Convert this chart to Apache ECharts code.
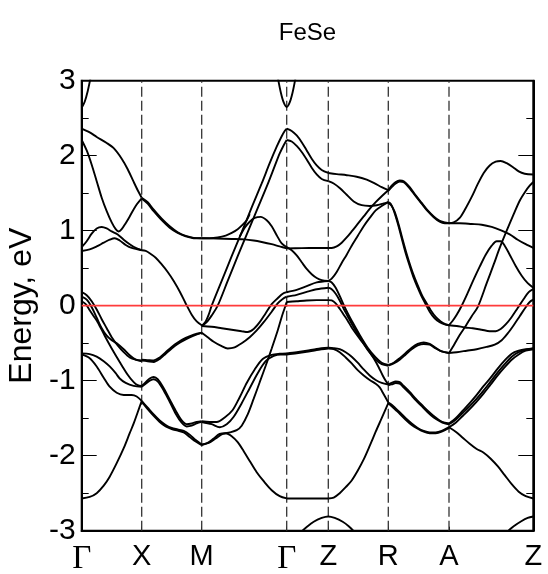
<!DOCTYPE html>
<html>
<head>
<meta charset="utf-8">
<script src="https://cdn.jsdelivr.net/npm/echarts@6/dist/echarts.min.js"></script>
<style>html,body{margin:0;padding:0;background:#fff}#main{width:548px;height:574px}</style>
</head>
<body>
<div id="main"></div>
<script>
// high-symmetry points (k-path distance) and labels
const kTicks = [0, 60, 120, 205, 246.6, 306.6, 367.3, 451.6];
const kLabels = ['Γ', 'X', 'M', 'Γ', 'Z', 'R', 'A', 'Z'];
const titleText = 'FeSe';
const yName = 'Energy, eV';
const fermiLevel = 0;

// Γ–X
const gx_top = [[0,2.64],[3,2.72],[6,2.86],[9,3.05]];
const gx_b1 = [[0,2.36],[8,2.31],[15,2.25],[25,2.17],[32,2.10],[40,1.96],[46,1.82],[52,1.65],[56,1.54],[60,1.44]];
const gx_b2 = [[0,2.21],[5,2.07],[10,1.88],[15,1.66],[20,1.44],[25,1.26],[30,1.11],[34,1.02],[37,0.99],[40,1.02],[44,1.10],[48,1.19],[54,1.33],[60,1.43]];
const gx_b3 = [[0,0.78],[5,0.86],[10,0.96],[15,1.03],[20,1.05],[25,1.03],[30,0.99],[36,0.95],[42,0.88],[48,0.82],[54,0.77],[60,0.74]];
const gx_b4 = [[0,0.73],[8,0.75],[15,0.79],[22,0.84],[28,0.88],[33,0.90],[38,0.87],[44,0.81],[50,0.77],[60,0.74]];
const gx_h1 = [[0,0.18],[5,0.14],[10,0.06],[15,-0.05],[20,-0.18],[25,-0.30],[30,-0.42],[36,-0.53],[42,-0.62],[48,-0.69],[54,-0.72],[60,-0.73]];
const gx_h2 = [[0,0.12],[5,0.08],[10,-0.02],[15,-0.16],[20,-0.30],[25,-0.40],[30,-0.46],[36,-0.51],[42,-0.58],[48,-0.66],[54,-0.72],[60,-0.74]];
const gx_h3 = [[0,0.06],[4,0.02],[8,-0.06],[12,-0.14],[16,-0.22],[23,-0.40],[30,-0.57],[38,-0.75],[46,-0.92],[52,-1.02],[56,-1.06],[60,-1.07]];
const gx_l1 = [[0,-0.635],[8,-0.645],[15,-0.68],[22,-0.74],[28,-0.81],[34,-0.90],[38,-0.97],[44,-1.03],[52,-1.07],[60,-1.08]];
const gx_l2 = [[0,-0.65],[8,-0.70],[15,-0.81],[22,-0.96],[28,-1.08],[35,-1.16],[42,-1.19],[50,-1.19],[55,-1.21],[60,-1.27]];
const gx_l3 = [[0,-2.57],[8,-2.55],[15,-2.50],[22,-2.40],[28,-2.28],[35,-2.10],[42,-1.90],[48,-1.70],[52,-1.57],[56,-1.42],[60,-1.27]];

// X–M
const xm_u1 = [[60,1.44],[66,1.38],[72,1.28],[80,1.16],[88,1.06],[96,0.98],[104,0.93],[112,0.905],[120,0.90]];
const xm_u2 = [[60,1.43],[66,1.36],[72,1.26],[80,1.14],[88,1.04],[96,0.97],[104,0.925],[112,0.90],[120,0.90]];
const xm_e1 = [[60,0.74],[64,0.73],[68,0.70],[74,0.64],[80,0.55],[86,0.45],[92,0.33],[98,0.19],[104,0.03],[110,-0.12],[115,-0.21],[120,-0.26]];
const xm_d1 = [[60,-0.73],[66,-0.74],[72,-0.75],[78,-0.71],[84,-0.64],[90,-0.57],[96,-0.51],[104,-0.45],[112,-0.40],[120,-0.36]];
const xm_d2 = [[60,-0.72],[66,-0.725],[72,-0.73],[78,-0.69],[84,-0.62],[90,-0.55],[96,-0.49],[104,-0.43],[112,-0.385],[120,-0.36]];
const xm_p1 = [[60,-1.07],[64,-1.02],[68,-0.97],[72,-0.95],[76,-0.98],[82,-1.10],[88,-1.25],[94,-1.40],[100,-1.53],[105,-1.58],[110,-1.57],[115,-1.55],[120,-1.54]];
const xm_p2 = [[60,-1.08],[64,-1.04],[68,-1.00],[72,-0.98],[76,-1.01],[82,-1.13],[88,-1.28],[94,-1.44],[100,-1.56],[105,-1.61],[110,-1.60],[115,-1.57],[120,-1.55]];
const xm_r1 = [[60,-1.27],[66,-1.36],[72,-1.45],[78,-1.53],[84,-1.59],[90,-1.63],[96,-1.65],[102,-1.67],[108,-1.72],[114,-1.79],[120,-1.85]];
const xm_r2 = [[60,-1.28],[66,-1.38],[72,-1.47],[78,-1.55],[84,-1.61],[90,-1.645],[96,-1.665],[102,-1.69],[108,-1.75],[114,-1.81],[120,-1.86]];

// M–Γ
const mg_f = [[120,0.90],[135,0.895],[150,0.89],[163,0.885],[172,0.87],[180,0.85],[190,0.82],[198,0.79],[205,0.765]];
const mg_c = [[120,0.90],[128,0.90],[136,0.91],[144,0.935],[150,0.97],[156,1.02],[161,1.08],[165,1.14],[168,1.22]];
const mg_bump = [[158,0.92],[163,1.04],[168,1.12],[173,1.17],[179,1.185],[185,1.14],[190,1.06],[195,0.94],[200,0.83],[205,0.78]];
const mg_s1 = [[120,-0.27],[124,-0.21],[127,-0.12],[130,0.0],[140,0.33],[150,0.66],[160,0.98],[170,1.31],[180,1.63],[188,1.90],[195,2.12],[200,2.26],[203,2.33],[205,2.36]];
const mg_s2 = [[120,-0.27],[125,-0.22],[130,-0.13],[136,0.0],[146,0.33],[156,0.66],[166,0.98],[176,1.30],[186,1.62],[193,1.86],[198,2.03],[202,2.14],[205,2.21]];
const mg_g1 = [[120,-0.27],[130,-0.28],[140,-0.30],[150,-0.32],[160,-0.34],[166,-0.35],[172,-0.31],[178,-0.22],[184,-0.10],[190,0.02],[196,0.10],[201,0.16],[205,0.18]];
const mg_g2 = [[120,-0.36],[126,-0.42],[132,-0.48],[140,-0.54],[146,-0.57],[152,-0.56],[160,-0.50],[168,-0.42],[175,-0.33],[182,-0.22],[190,-0.08],[196,0.03],[201,0.09],[205,0.12]];
const mg_t = [[120,-1.85],[127,-1.83],[134,-1.77],[141,-1.71],[148,-1.69],[155,-1.66],[160,-1.60],[166,-1.45],[172,-1.24],[178,-1.02],[184,-0.80],[190,-0.57],[196,-0.33],[200,-0.15],[203,-0.03],[205,0.05]];
const mg_q1 = [[120,-1.54],[128,-1.55],[135,-1.55],[143,-1.49],[151,-1.39],[158,-1.22],[165,-1.03],[173,-0.85],[181,-0.71],[190,-0.655],[198,-0.64],[205,-0.635]];
const mg_q2 = [[120,-1.55],[130,-1.58],[138,-1.62],[145,-1.58],[152,-1.48],[160,-1.30],[168,-1.10],[176,-0.90],[184,-0.74],[192,-0.67],[199,-0.65],[205,-0.65]];
const mg_deep = [[120,-1.86],[126,-1.83],[132,-1.77],[138,-1.71],[144,-1.70],[150,-1.74],[156,-1.82],[162,-1.94],[168,-2.07],[175,-2.22],[182,-2.34],[190,-2.46],[198,-2.54],[205,-2.57]];
const g1_top = [[196,3.05],[199,2.85],[202,2.71],[205,2.65],[208,2.71],[211,2.85],[214,3.05]];

// Γ–Z
const gz_v1 = [[205,2.36],[210,2.33],[215,2.27],[220,2.18],[225,2.07],[230,1.96],[235,1.87],[240,1.81],[246.6,1.77]];
const gz_v2 = [[205,2.21],[210,2.19],[215,2.13],[220,2.05],[225,1.95],[230,1.84],[235,1.75],[240,1.69],[246.6,1.66]];
const gz_flat = [[205,0.765],[220,0.768],[235,0.77],[246.6,0.77]];
const gz_w = [[205,0.78],[210,0.74],[215,0.67],[220,0.58],[225,0.49],[230,0.42],[235,0.37],[240,0.34],[246.6,0.33]];
const gz_h1 = [[205,0.18],[215,0.21],[225,0.26],[235,0.31],[246.6,0.33]];
const gz_h2 = [[205,0.12],[215,0.145],[225,0.185],[235,0.22],[246.6,0.24]];
const gz_h3 = [[205,0.05],[215,0.06],[225,0.07],[235,0.075],[246.6,0.075]];
const gz_l1 = [[205,-0.635],[215,-0.62],[225,-0.60],[235,-0.575],[246.6,-0.56]];
const gz_l2 = [[205,-0.65],[215,-0.635],[225,-0.615],[235,-0.59],[246.6,-0.57]];
const gz_deep = [[205,-2.57],[225,-2.57],[246.6,-2.57]];
const gz_hump = [[219,-3.02],[225,-2.95],[232,-2.88],[240,-2.83],[246.6,-2.81],[253,-2.83],[261,-2.88],[267,-2.94],[273,-3.02]];

// Z–R
const zr_y1 = [[246.6,1.77],[255,1.755],[265,1.74],[275,1.72],[285,1.68],[293,1.63],[300,1.58],[306.6,1.54]];
const zr_y2 = [[246.6,1.66],[252,1.63],[258,1.57],[265,1.48],[272,1.39],[280,1.34],[288,1.33],[295,1.34],[301,1.36],[306.6,1.38]];
const zr_y3 = [[246.6,0.77],[250,0.77],[255,0.79],[260,0.84],[265,0.91],[270,0.99],[276,1.09],[282,1.19],[288,1.29],[294,1.38],[300,1.46],[306.6,1.54]];
const zr_y4 = [[246.6,0.33],[250,0.36],[255,0.45],[260,0.57],[265,0.68],[270,0.80],[276,0.93],[282,1.06],[288,1.17],[294,1.27],[300,1.33],[306.6,1.38]];
const zr_h1 = [[246.6,0.33],[250,0.31],[254,0.24],[258,0.13],[262,0.01],[266,-0.10],[270,-0.20],[278,-0.39],[286,-0.56],[294,-0.69],[300,-0.76],[306.6,-0.79]];
const zr_h2 = [[246.6,0.24],[250,0.22],[254,0.16],[258,0.07],[262,-0.04],[266,-0.14],[270,-0.24],[278,-0.42],[286,-0.59],[294,-0.72],[300,-0.78],[306.6,-0.80]];
const zr_h3 = [[246.6,0.075],[250,0.07],[254,0.03],[258,-0.04],[262,-0.12],[266,-0.20],[270,-0.29],[278,-0.44],[286,-0.58],[292,-0.70],[297,-0.82],[301,-0.93],[304,-1.00],[306.6,-1.05]];
const zr_l1 = [[246.6,-0.56],[252,-0.565],[258,-0.58],[264,-0.62],[270,-0.68],[276,-0.76],[282,-0.85],[288,-0.93],[294,-0.99],[300,-1.03],[306.6,-1.05]];
const zr_l2 = [[246.6,-0.57],[252,-0.58],[258,-0.62],[264,-0.69],[270,-0.77],[276,-0.86],[282,-0.93],[288,-0.99],[294,-1.04],[298,-1.09],[302,-1.18],[306.6,-1.29]];
const zr_deep = [[246.6,-2.57],[252,-2.56],[258,-2.50],[264,-2.42],[270,-2.33],[276,-2.20],[282,-2.05],[288,-1.87],[294,-1.68],[300,-1.50],[306.6,-1.30]];

// R–A
const ra_u1 = [[306.6,1.54],[310,1.60],[314,1.65],[318,1.67],[322,1.66],[328,1.58],[334,1.47],[340,1.37],[346,1.27],[352,1.19],[358,1.13],[363,1.11],[367.3,1.10]];
const ra_u2 = [[306.6,1.53],[310,1.58],[314,1.63],[318,1.655],[322,1.645],[328,1.565],[334,1.46],[340,1.36],[346,1.26],[352,1.18],[358,1.12],[363,1.10],[367.3,1.10]];
const ra_d1 = [[306.6,1.38],[309,1.36],[312,1.27],[316,1.10],[320,0.90],[324,0.70],[328,0.53],[332,0.37],[336,0.24],[340,0.12],[344,0.02],[348,-0.08],[353,-0.17],[358,-0.22],[363,-0.25],[367.3,-0.26]];
const ra_d2 = [[306.6,1.37],[310,1.33],[313,1.25],[317,1.08],[321,0.88],[325,0.69],[329,0.52],[333,0.37],[337,0.24],[341,0.12],[345,0.03],[349,-0.06],[354,-0.15],[359,-0.21],[364,-0.25],[367.3,-0.26]];
const ra_m1 = [[306.6,-0.79],[312,-0.76],[318,-0.70],[324,-0.63],[330,-0.56],[336,-0.51],[342,-0.49],[348,-0.51],[354,-0.56],[360,-0.61],[367.3,-0.63]];
const ra_m2 = [[306.6,-0.80],[312,-0.77],[318,-0.72],[324,-0.65],[330,-0.58],[336,-0.53],[342,-0.51],[348,-0.52],[354,-0.57],[360,-0.61],[367.3,-0.63]];
const ra_n1 = [[306.6,-1.05],[310,-1.03],[314,-1.01],[318,-1.02],[322,-1.07],[328,-1.15],[334,-1.24],[340,-1.32],[346,-1.40],[352,-1.47],[358,-1.53],[363,-1.56],[367.3,-1.57]];
const ra_n2 = [[306.6,-1.06],[310,-1.05],[314,-1.03],[318,-1.04],[322,-1.09],[328,-1.17],[334,-1.26],[340,-1.34],[346,-1.42],[352,-1.49],[358,-1.54],[363,-1.57],[367.3,-1.58]];
const ra_p1 = [[306.6,-1.29],[310,-1.32],[314,-1.37],[318,-1.42],[324,-1.50],[330,-1.57],[336,-1.63],[342,-1.67],[348,-1.69],[354,-1.69],[360,-1.67],[367.3,-1.62]];
const ra_p2 = [[306.6,-1.30],[310,-1.34],[314,-1.39],[318,-1.44],[324,-1.52],[330,-1.59],[336,-1.64],[342,-1.68],[348,-1.70],[354,-1.70],[360,-1.68],[367.3,-1.63]];

// A–Z
const az_1 = [[367.3,1.10],[372,1.11],[378,1.17],[384,1.30],[390,1.45],[396,1.62],[402,1.77],[408,1.87],[414,1.92],[419,1.93],[425,1.90],[431,1.85],[437,1.79],[443,1.76],[451.6,1.75]];
const az_2 = [[367.3,1.10],[378,1.10],[390,1.09],[400,1.08],[410,1.05],[420,1.00],[428,0.95],[436,0.88],[444,0.82],[451.6,0.77]];
const az_3 = [[367.3,-0.63],[372,-0.53],[378,-0.39],[384,-0.27],[390,-0.14],[396,-0.02],[405,0.30],[412,0.55],[418,0.77],[425,1.00],[432,1.22],[438,1.40],[444,1.53],[448,1.60],[451.6,1.65]];
const az_4 = [[367.3,-0.26],[371,-0.20],[375,-0.12],[380,0.0],[386,0.17],[392,0.35],[398,0.52],[404,0.68],[410,0.80],[415,0.86],[419,0.86],[423,0.80],[428,0.68],[434,0.53],[440,0.40],[446,0.30],[451.6,0.24]];
const az_5 = [[367.3,-0.26],[375,-0.27],[383,-0.29],[391,-0.30],[400,-0.32],[408,-0.34],[414,-0.34],[419,-0.31],[424,-0.25],[430,-0.15],[436,-0.03],[442,0.09],[447,0.18],[451.6,0.22]];
const az_6 = [[367.3,-0.63],[375,-0.62],[385,-0.60],[395,-0.58],[405,-0.55],[413,-0.52],[420,-0.46],[426,-0.37],[432,-0.26],[438,-0.14],[444,-0.02],[448,0.05],[451.6,0.08]];
const az_7 = [[367.3,-1.57],[374,-1.50],[381,-1.40],[388,-1.30],[395,-1.19],[402,-1.07],[409,-0.96],[416,-0.84],[423,-0.73],[430,-0.64],[437,-0.60],[444,-0.58],[451.6,-0.57]];
const az_8 = [[367.3,-1.58],[374,-1.52],[381,-1.43],[388,-1.34],[395,-1.24],[402,-1.13],[409,-1.01],[416,-0.89],[423,-0.78],[430,-0.68],[437,-0.62],[444,-0.59],[451.6,-0.57]];
const az_9 = [[367.3,-1.62],[374,-1.56],[381,-1.47],[388,-1.38],[395,-1.28],[402,-1.17],[409,-1.05],[416,-0.93],[423,-0.82],[430,-0.72],[437,-0.65],[444,-0.60],[451.6,-0.58]];
const az_10 = [[367.3,-1.62],[374,-1.68],[381,-1.76],[388,-1.84],[395,-1.91],[402,-1.96],[409,-2.04],[416,-2.14],[423,-2.26],[430,-2.38],[437,-2.48],[444,-2.54],[451.6,-2.57]];
const az_hump = [[425,-3.02],[432,-2.94],[440,-2.87],[446,-2.83],[451.6,-2.81]];

const bands = [
  gx_top, gx_b1, gx_b2, gx_b3, gx_b4, gx_h1, gx_h2, gx_h3, gx_l1, gx_l2, gx_l3,
  xm_u1, xm_u2, xm_e1, xm_d1, xm_d2, xm_p1, xm_p2, xm_r1, xm_r2,
  mg_f, mg_c, mg_bump, mg_s1, mg_s2, mg_g1, mg_g2, mg_t, mg_q1, mg_q2, mg_deep, g1_top,
  gz_v1, gz_v2, gz_flat, gz_w, gz_h1, gz_h2, gz_h3, gz_l1, gz_l2, gz_deep, gz_hump,
  zr_y1, zr_y2, zr_y3, zr_y4, zr_h1, zr_h2, zr_h3, zr_l1, zr_l2, zr_deep,
  ra_u1, ra_u2, ra_d1, ra_d2, ra_m1, ra_m2, ra_n1, ra_n2, ra_p1, ra_p2,
  az_1, az_2, az_3, az_4, az_5, az_6, az_7, az_8, az_9, az_10, az_hump
];

const yMin = -3, yMax = 3;
const kMax = kTicks[kTicks.length - 1];
const font = 'Liberation Sans, Arial, sans-serif';

const series = [];
// dashed vertical lines at inner high-symmetry points
kTicks.slice(1, -1).forEach(k => {
  series.push({
    type: 'line', data: [[k, yMin], [k, yMax]], symbol: 'none', silent: true, z: 1,
    lineStyle: { color: '#333', width: 1.3, type: [10, 4] }
  });
});
bands.forEach(d => {
  series.push({
    type: 'line', data: d, smooth: 0.3, symbol: 'none', silent: true, clip: true, z: 3,
    lineStyle: { color: '#000', width: 1.9 }
  });
});
// Fermi level
series.push({
  type: 'line', data: [[0, fermiLevel], [kMax, fermiLevel]], symbol: 'none', silent: true, z: 5,
  lineStyle: { color: '#ff3b3b', width: 1.8 }
});

const chart = echarts.init(document.getElementById('main'), null, { renderer: 'canvas' });
chart.setOption({
  animation: false,
  backgroundColor: '#fff',
  graphic: [{
    type: 'text', x: 307.5, y: 33,
    style: { text: titleText, fontSize: 24, fontFamily: font, fill: '#000', textAlign: 'center', textVerticalAlign: 'middle' }
  }],
  grid: {
    left: 81.7, right: 14.7, top: 80.7, bottom: 43.3,
    containLabel: false, outerBoundsMode: 'none',
    show: true, borderColor: '#000', borderWidth: 2, backgroundColor: 'transparent'
  },
  xAxis: {
    type: 'value', min: 0, max: kMax, position: 'bottom',
    axisLine: { show: true, onZero: false, lineStyle: { color: '#000', width: 2 } },
    axisTick: { show: true, inside: true, length: 4, customValues: kTicks, lineStyle: { color: '#000', width: 1 } },
    splitLine: { show: false },
    axisLabel: {
      show: true, customValues: kTicks, margin: 12, color: '#000',
      formatter: (v, i) => {
        const idx = kTicks.indexOf(v);
        const lab = kLabels[idx >= 0 ? idx : i];
        return lab === 'Γ' ? '{g|Γ}' : '{s|' + lab + '}';
      },
      rich: {
        g: { fontFamily: 'Liberation Serif, Times New Roman, serif', fontSize: 33, color: '#000' },
        s: { fontFamily: font, fontSize: 29, color: '#000' }
      }
    }
  },
  yAxis: [{
    type: 'value', min: yMin, max: yMax, interval: 1, position: 'left',
    name: yName, nameLocation: 'middle', nameGap: 44,
    nameTextStyle: { fontSize: 32, fontFamily: font, color: '#000' },
    axisLine: { show: true, onZero: false, lineStyle: { color: '#000', width: 2 } },
    axisTick: { show: true, inside: true, length: 15, lineStyle: { color: '#000', width: 1 } },
    minorTick: { show: true, splitNumber: 2, length: 7, lineStyle: { color: '#000', width: 1 } },
    splitLine: { show: false },
    axisLabel: { margin: 6, fontSize: 30, fontFamily: font, color: '#000' }
  }, {
    type: 'value', min: yMin, max: yMax, interval: 1, position: 'right',
    axisLine: { show: true, onZero: false, lineStyle: { color: '#000', width: 2 } },
    axisTick: { show: true, inside: true, length: 15, lineStyle: { color: '#000', width: 1 } },
    minorTick: { show: true, splitNumber: 2, length: 7, lineStyle: { color: '#000', width: 1 } },
    splitLine: { show: false },
    axisLabel: { show: false }
  }],
  series: series
});
</script>
</body>
</html>
